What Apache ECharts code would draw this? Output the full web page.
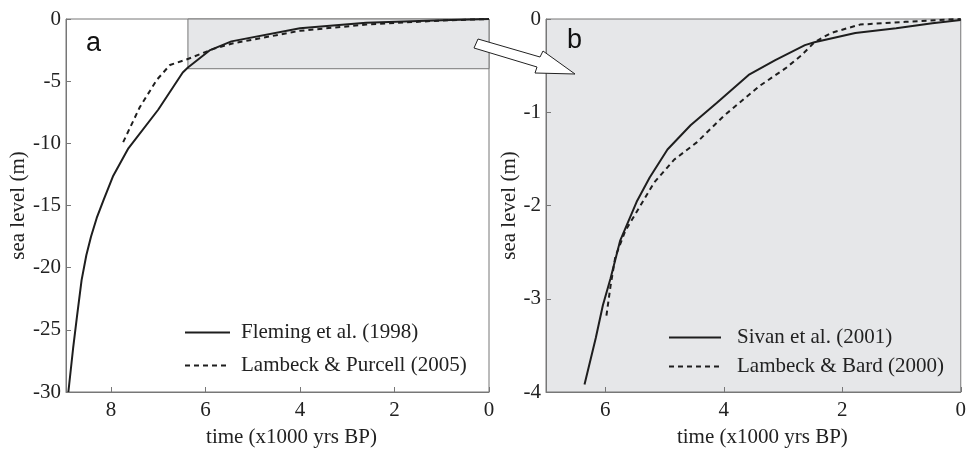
<!DOCTYPE html>
<html>
<head>
<meta charset="utf-8">
<script src="https://cdn.jsdelivr.net/npm/echarts@6/dist/echarts.min.js"></script>
<style>
  html, body { margin: 0; padding: 0; background: #fff; }
  #chart { width: 969px; height: 453px; }
</style>
</head>
<body>
<div id="chart"></div>
<script>
// panel a: Fleming et al. (1998) and Lambeck & Purcell (2005)
const flemingTime = [8.90, 8.80, 8.72, 8.62, 8.52, 8.42, 8.30, 8.15, 7.95, 7.63, 7.00, 6.48, 6.37, 5.90, 5.45, 4.00, 2.60, 1.00, 0]
const flemingLevel = [-30, -26.5, -24, -21, -19, -17.5, -16, -14.5, -12.6, -10.4, -7.3, -4.3, -3.9, -2.5, -1.8, -0.75, -0.3, -0.1, 0]
const purcellTime = [7.74, 7.39, 7.03, 6.75, 6.36, 5.83, 5.41, 4.00, 2.60, 1.00, 0]
const purcellLevel = [-9.9, -7.1, -4.9, -3.7, -3.2, -2.4, -1.95, -0.95, -0.45, -0.12, 0]

// panel b: Sivan et al. (2001) and Lambeck & Bard (2000)
const sivanTime = [6.35, 6.16, 6.04, 5.91, 5.75, 5.47, 5.25, 4.95, 4.56, 4.12, 3.58, 3.13, 2.63, 2.47, 1.78, 1.09, 0.48, 0]
const sivanLevel = [-3.92, -3.42, -3.07, -2.78, -2.38, -1.96, -1.70, -1.40, -1.14, -0.90, -0.60, -0.44, -0.28, -0.25, -0.15, -0.10, -0.045, -0.01]
const bardTime = [5.98, 5.91, 5.83, 5.66, 5.50, 5.17, 4.84, 4.45, 4.00, 3.40, 2.96, 2.69, 2.47, 2.19, 1.70, 0.93, 0]
const bardLevel = [-3.18, -2.86, -2.55, -2.27, -2.10, -1.75, -1.51, -1.32, -1.04, -0.72, -0.53, -0.39, -0.25, -0.15, -0.06, -0.03, 0]

// zoom box drawn in panel a
const zoomBoxTime = [6.37, 0]
const zoomBoxLevel = [0, -4]

const pair = (xs, ys) => xs.map((x, i) => [x, ys[i]])

const serif = 'Liberation Serif'
const frame = '#777'
const ink = '#1e1e1e'
const panelGray = '#e6e7e9'

const chart = echarts.init(document.getElementById('chart'))

const xAxisBase = {
  type: 'value',
  inverse: true,
  min: 0,
  interval: 2,
  nameLocation: 'middle',
  nameGap: 35,
  axisLine: { onZero: false, lineStyle: { color: frame, width: 1 } },
  axisTick: { inside: true, length: 5, lineStyle: { color: frame } },
  axisLabel: { color: '#222', fontFamily: serif, fontSize: 21, margin: 8, showMaxLabel: false },
  splitLine: { show: false }
}
const yAxisBase = {
  type: 'value',
  max: 0,
  nameLocation: 'middle',
  axisLine: { show: true, onZero: false, lineStyle: { color: frame, width: 1 } },
  axisTick: { show: true, inside: true, length: 5, lineStyle: { color: frame } },
  axisLabel: { color: '#222', fontFamily: serif, fontSize: 21, margin: 5 },
  splitLine: { show: false },
  nameTextStyle: { color: '#222', fontFamily: serif, fontSize: 21 }
}

const solid = { color: ink, width: 2 }
const dashed = { color: ink, width: 2, type: [5, 4] }

const legendBase = {
  orient: 'vertical', padding: 0, itemHeight: 14,
  itemStyle: { opacity: 0, borderWidth: 0 },
  textStyle: { color: '#222', fontFamily: serif, fontSize: 21 }
}

const option = {
  animation: false,
  grid: [
    { left: 66, top: 19, width: 423, height: 383, show: true, borderColor: frame, borderWidth: 1, backgroundColor: 'transparent' },
    { left: 546, top: 19, width: 423, height: 383, show: true, borderColor: frame, borderWidth: 1, backgroundColor: panelGray }
  ],
  xAxis: [
    Object.assign({}, xAxisBase, {
      gridIndex: 0, max: 8.95, name: 'time (x1000 yrs BP)',
      nameTextStyle: { color: '#222', fontFamily: serif, fontSize: 21, padding: [0, 0, 0, 28] }
    }),
    Object.assign({}, xAxisBase, {
      gridIndex: 1, max: 7, name: 'time (x1000 yrs BP)',
      nameTextStyle: { color: '#222', fontFamily: serif, fontSize: 21, padding: [0, 0, 0, 18] }
    })
  ],
  yAxis: [
    Object.assign({}, yAxisBase, { gridIndex: 0, min: -30, interval: 5, name: 'sea level (m)', nameGap: 34 }),
    Object.assign({}, yAxisBase, { gridIndex: 1, min: -4, interval: 1, name: 'sea level (m)', nameGap: 26 })
  ],
  legend: [
    Object.assign({}, legendBase, {
      data: ['Fleming et al. (1998)', 'Lambeck & Purcell (2005)'],
      left: 184, top: 322, itemWidth: 45, itemGap: 12,
      textStyle: Object.assign({}, legendBase.textStyle, { padding: [0, 0, 0, 6] })
    }),
    Object.assign({}, legendBase, {
      data: ['Sivan et al. (2001)', 'Lambeck & Bard (2000)'],
      left: 668, top: 327, itemWidth: 52, itemGap: 8,
      textStyle: Object.assign({}, legendBase.textStyle, { padding: [0, 0, 0, 11] })
    })
  ],
  series: [
    {
      name: 'zoom box', type: 'line', xAxisIndex: 0, yAxisIndex: 0, data: [], z: 1,
      markArea: {
        silent: true,
        itemStyle: { color: panelGray, borderColor: frame, borderWidth: 1 },
        data: [[{ xAxis: zoomBoxTime[0], yAxis: zoomBoxLevel[0] }, { xAxis: zoomBoxTime[1], yAxis: zoomBoxLevel[1] }]]
      }
    },
    { name: 'Fleming et al. (1998)', type: 'line', xAxisIndex: 0, yAxisIndex: 0, data: pair(flemingTime, flemingLevel), symbol: 'none', lineStyle: solid, itemStyle: { color: ink }, z: 3 },
    { name: 'Lambeck & Purcell (2005)', type: 'line', xAxisIndex: 0, yAxisIndex: 0, data: pair(purcellTime, purcellLevel), symbol: 'none', lineStyle: dashed, itemStyle: { color: ink }, z: 3 },
    { name: 'Sivan et al. (2001)', type: 'line', xAxisIndex: 1, yAxisIndex: 1, data: pair(sivanTime, sivanLevel), symbol: 'none', lineStyle: solid, itemStyle: { color: ink }, z: 3 },
    { name: 'Lambeck & Bard (2000)', type: 'line', xAxisIndex: 1, yAxisIndex: 1, data: pair(bardTime, bardLevel), symbol: 'none', lineStyle: dashed, itemStyle: { color: ink }, z: 3 }
  ],
  graphic: [
    { type: 'text', left: 86, top: 30, z: 10, style: { text: 'a', font: '27px "Liberation Sans"', fill: '#111' } },
    { type: 'text', left: 567, top: 27, z: 10, style: { text: 'b', font: '27px "Liberation Sans"', fill: '#111' } },
    {
      type: 'polygon', z: 20,
      shape: { points: [[478, 39], [540, 57], [543, 51], [575, 74], [535, 73], [537, 67], [474, 48]] },
      style: { fill: '#fff', stroke: '#222', lineWidth: 1 }
    }
  ]
}

chart.setOption(option)
window.addEventListener('resize', () => chart.resize())
</script>
</body>
</html>
